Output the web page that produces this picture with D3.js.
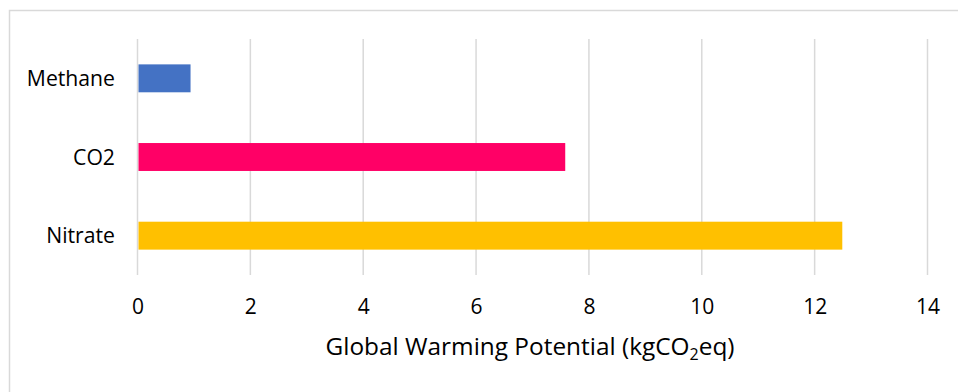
<!DOCTYPE html>
<html>
<head>
<meta charset="utf-8">
<script src="https://cdn.jsdelivr.net/npm/d3@7"></script>
<style>
  html, body { margin: 0; padding: 0; background: #fff; }
  svg { display: block; font-family: "Open Sans", sans-serif; }
</style>
</head>
<body>
<svg id="chart" width="958" height="392"></svg>
<script>
// Global warming potential by source (kgCO2eq)
const categories = ["Methane", "CO2", "Nitrate"];
const values = [0.94, 7.58, 12.49];
const barColors = ["#4472C4", "#FF0066", "#FFC000"];
const xTicks = [0, 2, 4, 6, 8, 10, 12, 14];

const svg = d3.select("#chart");
const plot = { left: 137.5, right: 927.5, top: 39, bottom: 275 };
const FONT = "'Open Sans', sans-serif";

// chart frame
svg.append("rect")
  .attr("x", 9.5).attr("y", 10.5)
  .attr("width", 970).attr("height", 400)
  .attr("fill", "none").attr("stroke", "#D9D9D9").attr("stroke-width", 1.5);

const x = d3.scaleLinear().domain([0, 14]).range([plot.left, plot.right]);
const y = d3.scaleBand().domain(categories).range([plot.top, plot.bottom])
  .paddingInner(0.645).paddingOuter(0.3225);

// vertical gridlines
svg.append("g").selectAll("line").data(xTicks).join("line")
  .attr("x1", d => x(d)).attr("x2", d => x(d))
  .attr("y1", plot.top).attr("y2", plot.bottom)
  .attr("stroke", "#D9D9D9").attr("stroke-width", 1.5);

// bars
svg.append("g").selectAll("rect").data(categories).join("rect")
  .attr("x", x(0) + 1)
  .attr("y", d => y(d))
  .attr("width", (d, i) => x(values[i]) - x(0) - 1)
  .attr("height", y.bandwidth())
  .attr("fill", (d, i) => barColors[i]);

// x axis tick labels
const xAxis = d3.axisBottom(x).tickValues(xTicks).tickSize(0);
const gx = svg.append("g").attr("transform", `translate(0,${plot.bottom})`).call(xAxis);
gx.select(".domain").remove();
gx.selectAll("text")
  .attr("y", 39).attr("dy", 0)
  .attr("font-family", FONT).attr("font-size", 21).attr("fill", "#000");

// y axis category labels
const yAxis = d3.axisLeft(y).tickSize(0).tickPadding(22.5);
const gy = svg.append("g").attr("transform", `translate(${plot.left},0)`).call(yAxis);
gy.select(".domain").remove();
gy.selectAll("text")
  .attr("dy", "0.36em")
  .attr("font-family", FONT).attr("font-size", 21.2).attr("fill", "#000");

// axis title with subscript
const title = svg.append("text")
  .attr("x", 530).attr("y", 355)
  .attr("text-anchor", "middle")
  .attr("font-family", FONT)
  .attr("font-size", 24.4).attr("fill", "#000");
title.append("tspan").text("Global Warming Potential (kgCO");
title.append("tspan").attr("font-size", 16).attr("dy", 5).text("2");
title.append("tspan").attr("dy", -5).text("eq)");
</script>
</body>
</html>
